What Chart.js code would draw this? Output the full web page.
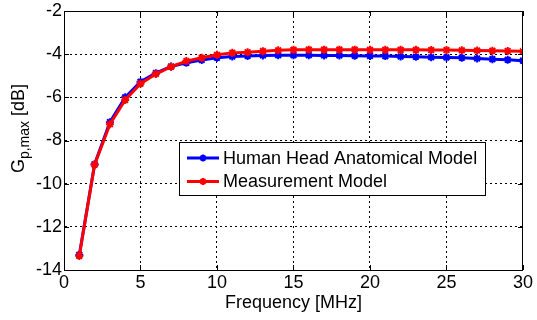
<!DOCTYPE html>
<html>
<head>
<meta charset="utf-8">
<script src="https://cdn.jsdelivr.net/npm/chart.js@4.4.1/dist/chart.umd.min.js"></script>
<style>
  html, body { margin: 0; padding: 0; background: #fff; }
  #wrap { width: 537px; height: 320px; }
</style>
</head>
<body>
<div id="wrap"><canvas id="grafico"></canvas></div>
<script>
// frequencias em MHz
const freq = [1, 2, 3, 4, 5, 6, 7, 8, 9, 10, 11, 12, 13, 14, 15,
              16, 17, 18, 19, 20, 21, 22, 23, 24, 25, 26, 27, 28, 29, 30];

// Gp,max [dB] - modelo anatomico
const headModel = [-13.30, -9.10, -7.15, -6.00, -5.28, -4.88, -4.57, -4.40, -4.27, -4.17,
                   -4.11, -4.08, -4.06, -4.05, -4.05, -4.05, -4.06, -4.06, -4.07, -4.08,
                   -4.09, -4.11, -4.12, -4.14, -4.15, -4.17, -4.20, -4.23, -4.26, -4.30];

// Gp,max [dB] - modelo de medicao
const measModel = [-13.35, -9.12, -7.25, -6.12, -5.37, -4.92, -4.58, -4.32, -4.17, -4.03,
                   -3.94, -3.91, -3.86, -3.82, -3.80, -3.79, -3.79, -3.79, -3.79, -3.80,
                   -3.80, -3.80, -3.80, -3.81, -3.81, -3.82, -3.83, -3.84, -3.85, -3.86];

const seriesNames = ['Human Head Anatomical Model', 'Measurement Model'];
const seriesColors = ['#0000ff', '#ff0000'];

const xLabel = 'Frequency [MHz]';
const yLabel = ['G', 'p,max', ' [dB]'];

const FONT = '"Liberation Sans", Arial, sans-serif';

const pts = (arr) => freq.map((f, i) => ({ x: f, y: arr[i] }));

// moldura, marcas internas, rotulo do eixo y e legenda
const extras = {
    id: 'extras',
    afterDraw(chart) {
        const ctx = chart.ctx;
        const a = chart.chartArea;
        const xs = chart.scales.x;
        const ys = chart.scales.y;

        ctx.save();
        ctx.strokeStyle = '#000';
        ctx.lineWidth = 1;
        ctx.setLineDash([]);
        ctx.strokeRect(a.left + 0.5, a.top + 0.5, a.right - a.left - 1, a.bottom - a.top);

        const tl = 5;
        ctx.beginPath();
        xs.ticks.forEach(t => {
            const px = Math.round(xs.getPixelForValue(t.value)) + 0.5;
            ctx.moveTo(px, a.bottom); ctx.lineTo(px, a.bottom - tl);
            ctx.moveTo(px, a.top); ctx.lineTo(px, a.top + tl);
        });
        ys.ticks.forEach(t => {
            const py = Math.round(ys.getPixelForValue(t.value)) + 0.5;
            ctx.moveTo(a.left, py); ctx.lineTo(a.left + tl, py);
            ctx.moveTo(a.right, py); ctx.lineTo(a.right - tl, py);
        });
        ctx.stroke();

        // rotulo y com subscrito
        ctx.fillStyle = '#000';
        ctx.textBaseline = 'alphabetic';
        const f1 = '18px ' + FONT, f2 = '14px ' + FONT;
        ctx.font = f1; const w0 = ctx.measureText(yLabel[0]).width;
        const w2 = ctx.measureText(yLabel[2]).width;
        ctx.font = f2; const w1 = ctx.measureText(yLabel[1]).width;
        const tot = w0 + w1 + w2;
        ctx.translate(24, (a.top + a.bottom) / 2 - 12);
        ctx.rotate(-Math.PI / 2);
        let cx = -tot / 2;
        ctx.font = f1; ctx.fillText(yLabel[0], cx, 0); cx += w0;
        ctx.font = f2; ctx.fillText(yLabel[1], cx, 5); cx += w1;
        ctx.font = f1; ctx.fillText(yLabel[2], cx, 0);
        ctx.restore();

        // legenda
        ctx.save();
        const lx = 179, ly = 142, lw = 306, lh = 53;
        ctx.fillStyle = '#fff';
        ctx.fillRect(lx, ly, lw, lh);
        ctx.strokeStyle = '#000';
        ctx.lineWidth = 1;
        ctx.strokeRect(lx + 0.5, ly + 0.5, lw, lh);
        ctx.font = '18px ' + FONT;
        ctx.textBaseline = 'middle';
        seriesNames.forEach((name, i) => {
            const yy = ly + 16 + i * 23.5;
            ctx.strokeStyle = seriesColors[i];
            ctx.lineWidth = 3;
            ctx.beginPath();
            ctx.moveTo(lx + 8, yy); ctx.lineTo(lx + 40, yy);
            ctx.stroke();
            ctx.lineWidth = 2;
            const mx = lx + 24, r = 3.5;
            ctx.beginPath();
            ctx.moveTo(mx - r, yy); ctx.lineTo(mx + r, yy);
            ctx.moveTo(mx, yy - r); ctx.lineTo(mx, yy + r);
            ctx.moveTo(mx - r * 0.7, yy - r * 0.7); ctx.lineTo(mx + r * 0.7, yy + r * 0.7);
            ctx.moveTo(mx - r * 0.7, yy + r * 0.7); ctx.lineTo(mx + r * 0.7, yy - r * 0.7);
            ctx.stroke();
            ctx.fillStyle = '#000';
            ctx.fillText(name, lx + 44, yy + 1);
        });
        ctx.restore();
    }
};

new Chart(document.getElementById('grafico').getContext('2d'), {
    type: 'line',
    data: {
        datasets: [
            {
                label: seriesNames[0],
                data: pts(headModel),
                borderColor: seriesColors[0],
                backgroundColor: seriesColors[0],
                borderWidth: 3,
                pointStyle: 'star',
                pointRadius: 4,
                pointBorderWidth: 2,
                fill: false,
                tension: 0,
                order: 1
            },
            {
                label: seriesNames[1],
                data: pts(measModel),
                borderColor: seriesColors[1],
                backgroundColor: seriesColors[1],
                borderWidth: 3,
                pointStyle: 'star',
                pointRadius: 4,
                pointBorderWidth: 2,
                fill: false,
                tension: 0,
                order: 0
            }
        ]
    },
    options: {
        responsive: true,
        maintainAspectRatio: false,
        animation: false,
        layout: { padding: { left: 0, top: 10, right: 10, bottom: 0 } },
        plugins: {
            legend: { display: false },
            tooltip: { enabled: false }
        },
        scales: {
            x: {
                type: 'linear',
                min: 0,
                max: 30,
                afterFit: (s) => { s.height = 50; },
                ticks: { stepSize: 5, color: '#000', font: { family: FONT, size: 18, lineHeight: 1 }, padding: 4, maxRotation: 0 },
                grid: { color: '#000', lineWidth: 1, drawTicks: false },
                border: { display: true, color: '#000', dash: [2, 3] },
                title: {
                    display: true,
                    text: xLabel,
                    color: '#000',
                    font: { family: FONT, size: 18 },
                    padding: { top: 0, bottom: 6 }
                }
            },
            y: {
                min: -14,
                max: -2,
                afterFit: (s) => { s.width = 64; },
                ticks: { stepSize: 2, color: '#000', font: { family: FONT, size: 18, lineHeight: 1 }, padding: 2 },
                grid: { color: '#000', lineWidth: 1, drawTicks: false },
                border: { display: true, color: '#000', dash: [2, 3] }
            }
        }
    },
    plugins: [extras]
});
</script>
</body>
</html>
